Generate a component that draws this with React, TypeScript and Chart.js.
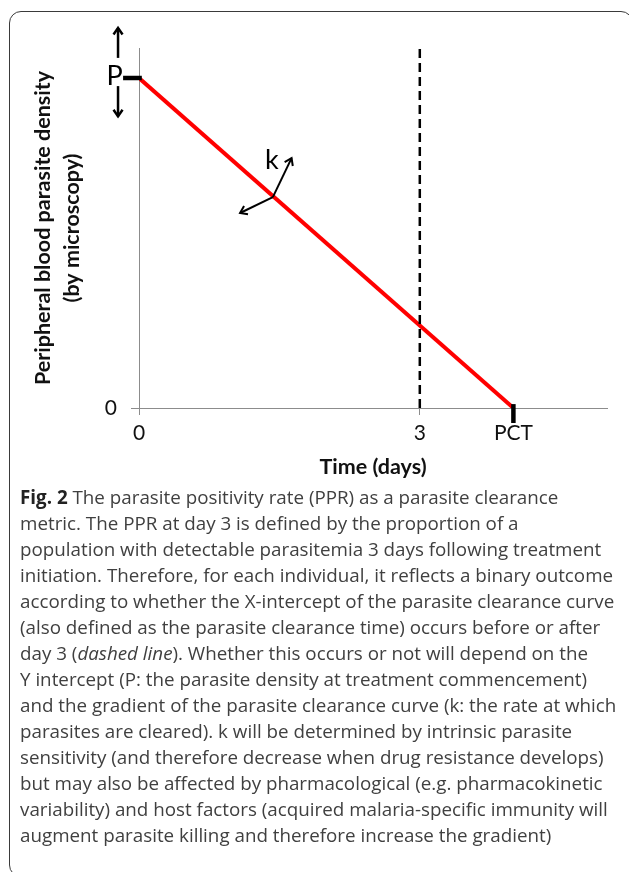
import React, { useEffect, useRef } from 'react';
import { Chart, registerables } from 'chart.js';

Chart.register(...registerables);

// ---- data (days / parasite density units) ----
const clearanceDays = [0, 4];
const clearanceDensity = [11, 0];
const day3Days = [3, 3];
const day3Density = [0, 12];
const xTickValues = [0, 3, 4];
const xTickLabels = ['0', '3', 'PCT'];
const yTickValues = [0];
const yTickLabels = ['0'];
const xRange = [0, 5];
const yRange = [0, 12];

// annotation geometry in data units
const pMarkerDays = [-0.17, 0.03];
const pMarkerDensity = 11;
const pLabelPos = [-0.26, 11.05];
const pArrowUp = [[-0.224, 11.67], [-0.224, 12.67]];
const pArrowDown = [[-0.224, 10.73], [-0.224, 9.72]];
const kOrigin = [1.43, 7.03];
const kArrowHeads = [[1.63, 8.33], [1.08, 6.5]];
const kLabelPos = [1.42, 8.25];
const pctMarkerDensity = [0.13, -0.5];

const captionLines: React.ReactNode[] = [
  <><b style={{ color: '#222' }}>Fig. 2</b> The parasite positivity rate (PPR) as a parasite clearance</>,
  'metric. The PPR at day 3 is defined by the proportion of a',
  'population with detectable parasitemia 3 days following treatment',
  'initiation. Therefore, for each individual, it reflects a binary outcome',
  'according to whether the X-intercept of the parasite clearance curve',
  '(also defined as the parasite clearance time) occurs before or after',
  <>day 3 (<i>dashed line</i>). Whether this occurs or not will depend on the</>,
  'Y intercept (P: the parasite density at treatment commencement)',
  'and the gradient of the parasite clearance curve (k: the rate at which',
  'parasites are cleared). k will be determined by intrinsic parasite',
  'sensitivity (and therefore decrease when drug resistance develops)',
  'but may also be affected by pharmacological (e.g. pharmacokinetic',
  'variability) and host factors (acquired malaria-specific immunity will',
  'augment parasite killing and therefore increase the gradient)',
];

const FONT = 'Lato, "Open Sans", sans-serif';

const annotationPlugin = {
  id: 'annotations',
  afterDatasetsDraw(chart: any) {
    const { ctx, scales } = chart;
    const px = (v: number) => scales.x.getPixelForValue(v);
    const py = (v: number) => scales.y.getPixelForValue(v);
    const seg = (x1: number, y1: number, x2: number, y2: number) => {
      ctx.beginPath();
      ctx.moveTo(x1, y1);
      ctx.lineTo(x2, y2);
      ctx.stroke();
    };
    const arrow = (from: number[], to: number[], width: number) => {
      const x1 = px(from[0]), y1 = py(from[1]), x2 = px(to[0]), y2 = py(to[1]);
      ctx.lineWidth = width;
      seg(x1, y1, x2, y2);
      const a = Math.atan2(y2 - y1, x2 - x1);
      const L = 8;
      ctx.beginPath();
      ctx.moveTo(x2 - L * Math.cos(a - 0.6), y2 - L * Math.sin(a - 0.6));
      ctx.lineTo(x2, y2);
      ctx.lineTo(x2 - L * Math.cos(a + 0.6), y2 - L * Math.sin(a + 0.6));
      ctx.stroke();
    };
    ctx.save();
    ctx.strokeStyle = '#000';
    ctx.fillStyle = '#000';
    ctx.lineCap = 'butt';
    ctx.lineJoin = 'miter';
    // P marker
    ctx.lineWidth = 4.5;
    seg(px(pMarkerDays[0]), py(pMarkerDensity), px(pMarkerDays[1]), py(pMarkerDensity));
    // PCT marker
    seg(px(clearanceDays[1]), py(pctMarkerDensity[0]), px(clearanceDays[1]), py(pctMarkerDensity[1]));
    // P arrows
    arrow(pArrowUp[0], pArrowUp[1], 2.5);
    arrow(pArrowDown[0], pArrowDown[1], 2.5);
    // k arrows
    kArrowHeads.forEach((h) => arrow(kOrigin, h, 2));
    // labels
    ctx.font = '27px ' + FONT;
    ctx.textAlign = 'center';
    ctx.textBaseline = 'middle';
    ctx.fillText('P', px(pLabelPos[0]), py(pLabelPos[1]));
    ctx.fillText('k', px(kLabelPos[0]), py(kLabelPos[1]));
    ctx.restore();
  },
};

export default function App() {
  const canvasRef = useRef<HTMLCanvasElement | null>(null);

  useEffect(() => {
    document.body.style.margin = '0';
    const canvas = canvasRef.current;
    if (!canvas) return;
    const chart = new Chart(canvas, {
      type: 'line',
      data: {
        datasets: [
          {
            data: day3Days.map((d, i) => ({ x: d, y: day3Density[i] })),
            borderColor: '#000',
            borderWidth: 2.5,
            borderDash: [9, 5],
            pointRadius: 0,
            fill: false,
          },
          {
            data: clearanceDays.map((d, i) => ({ x: d, y: clearanceDensity[i] })),
            borderColor: '#ff0000',
            borderWidth: 4,
            pointRadius: 0,
            fill: false,
          },
        ],
      },
      options: {
        responsive: false,
        animation: false,
        events: [],
        layout: { padding: { top: 48, right: 22, left: 0, bottom: 0 } },
        plugins: { legend: { display: false }, tooltip: { enabled: false } },
        scales: {
          x: {
            type: 'linear',
            min: xRange[0],
            max: xRange[1],
            afterBuildTicks: (s: any) => {
              s.ticks = xTickValues.map((v) => ({ value: v }));
            },
            afterFit: (s: any) => {
              s.height = 82;
            },
            ticks: {
              autoSkip: false,
              maxRotation: 0,
              padding: 6,
              color: '#111',
              font: { family: FONT, size: 21, lineHeight: 1.2 },
              callback: (v: any) => xTickLabels[xTickValues.indexOf(Number(v))] ?? '',
            },
            grid: {
              drawOnChartArea: false,
              drawTicks: true,
              tickLength: 7,
              tickColor: (c: any) => (c.tick && c.tick.value === 4 ? 'rgba(0,0,0,0)' : '#8c8c8c'),
            },
            border: { display: true, color: '#8c8c8c', width: 1 },
            title: {
              display: true,
              text: 'Time (days)',
              color: '#111',
              font: { family: FONT, size: 21.5, weight: 'bold', lineHeight: 1.2 },
              padding: { top: 0, bottom: 10 },
            },
          },
          y: {
            type: 'linear',
            min: yRange[0],
            max: yRange[1],
            afterBuildTicks: (s: any) => {
              s.ticks = yTickValues.map((v) => ({ value: v }));
            },
            afterFit: (s: any) => {
              s.width = 139;
            },
            ticks: {
              padding: 14,
              color: '#111',
              font: { family: FONT, size: 21 },
              callback: (v: any) => yTickLabels[yTickValues.indexOf(Number(v))] ?? '',
            },
            grid: {
              drawOnChartArea: false,
              drawTicks: true,
              tickLength: 8,
              tickColor: '#8c8c8c',
            },
            border: { display: true, color: '#8c8c8c', width: 1 },
            title: {
              display: true,
              text: ['Peripheral blood parasite density', '(by microscopy)'],
              color: '#111',
              font: { family: FONT, size: 21.5, weight: 'bold', lineHeight: 1.35 },
              padding: { top: 28.5, bottom: 0 },
            },
          },
        },
      },
      plugins: [annotationPlugin],
    } as any);
    return () => chart.destroy();
  }, []);

  return (
    <div style={{ position: 'relative', width: 629, height: 872, background: '#fff', overflow: 'hidden' }}>
      <div
        style={{
          position: 'absolute',
          left: 9,
          top: 11,
          width: 624,
          height: 866,
          boxSizing: 'border-box',
          border: '1.5px solid #3a3a3a',
          borderRadius: 12,
        }}
      />
      <canvas
        ref={canvasRef}
        width={629}
        height={490}
        style={{ position: 'absolute', left: 0, top: 0, width: 629, height: 490 }}
      />
      <div
        style={{
          position: 'absolute',
          left: 20,
          top: 484,
          fontFamily: '"Open Sans", sans-serif',
          fontSize: 18.8,
          lineHeight: '26px',
          color: '#404040',
          whiteSpace: 'nowrap',
        }}
      >
        {captionLines.map((l, i) => (
          <div key={i}>{l}</div>
        ))}
      </div>
    </div>
  );
}
